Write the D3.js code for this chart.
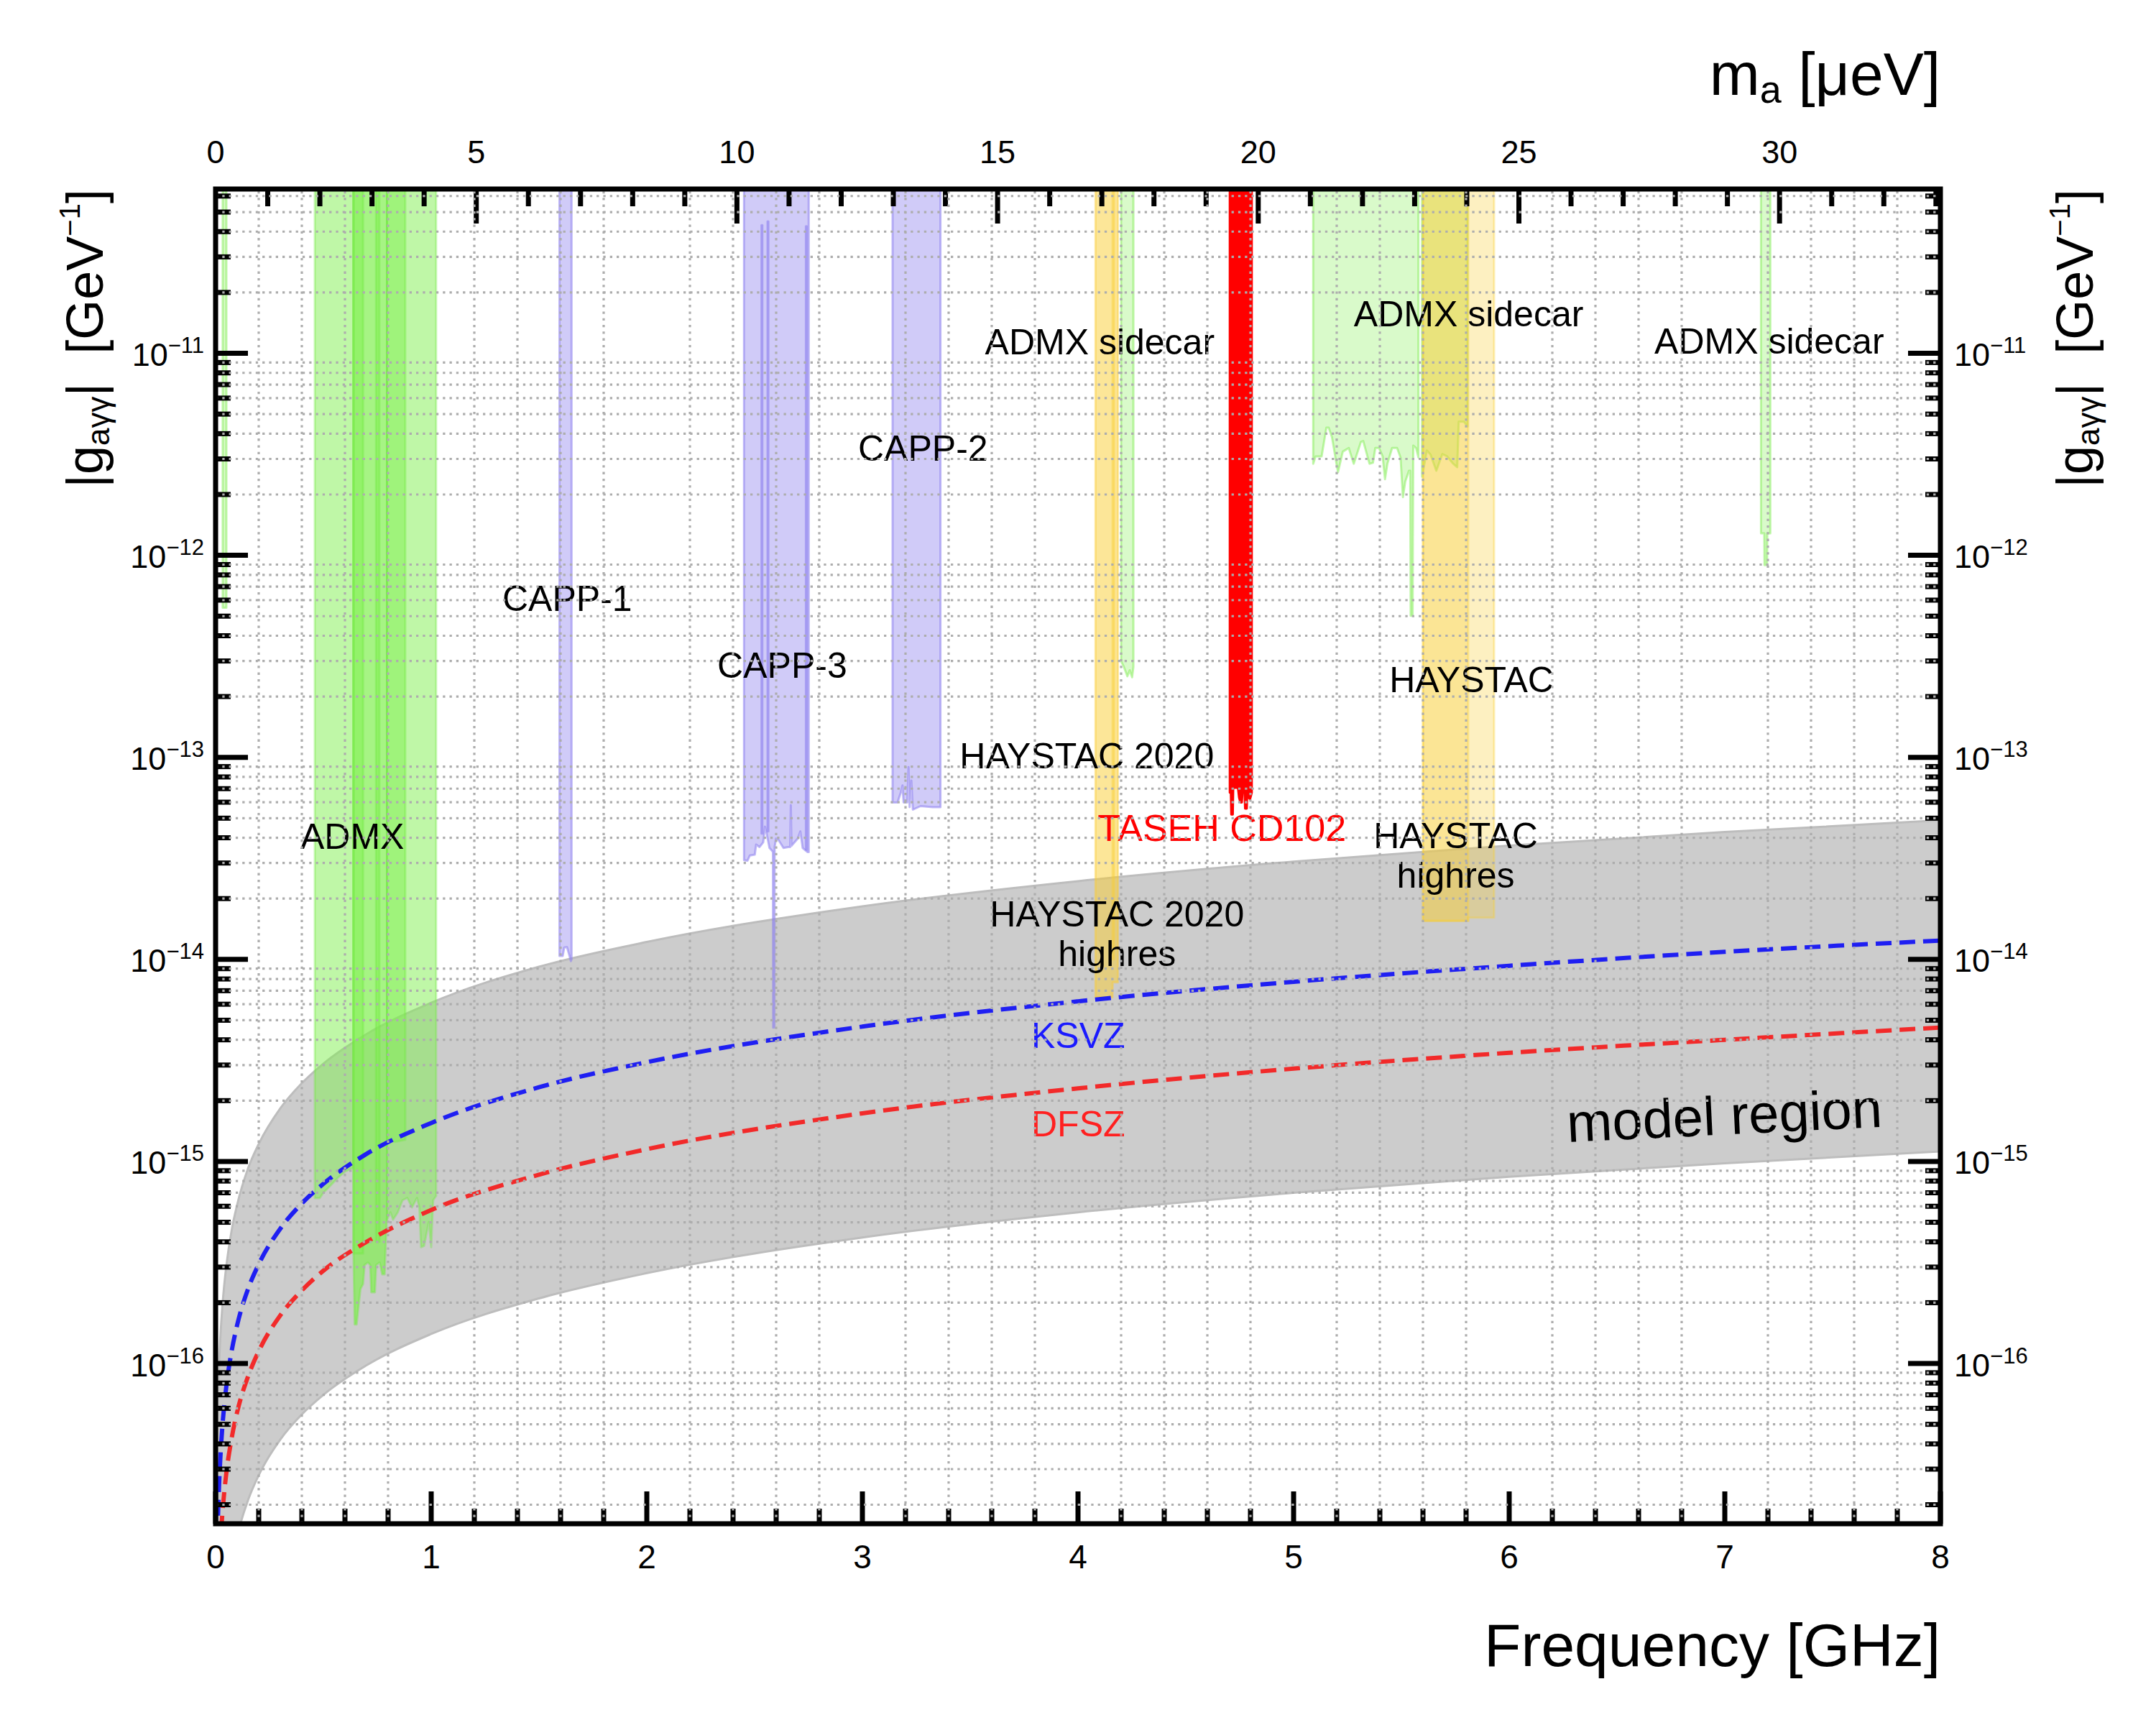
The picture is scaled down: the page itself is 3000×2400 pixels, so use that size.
<!DOCTYPE html>
<html><head><meta charset="utf-8">
<script src="https://cdn.jsdelivr.net/npm/d3@7/dist/d3.min.js"></script>
<style>
html,body{margin:0;padding:0;background:#fff;}
svg{display:block;}
text{font-family:"Liberation Sans",Arial,Helvetica,sans-serif;}
</style></head><body>
<svg id="chart" width="3000" height="2400"></svg>
<script>
// ---------------- DATA ----------------
const freqTicks = [0,1,2,3,4,5,6,7,8];
const massTicks = [0,5,10,15,20,25,30];
const gDecades  = [-16,-15,-14,-13,-12,-11];

// model band and benchmark lines (GHz, GeV^-1)
const modelFreq  = [0.001,0.003,0.01,0.015,0.02,0.03,0.04,0.05,0.075,0.1,0.15,0.2,0.3,0.4,0.5,0.7,1,1.5,2,3,4,5,6,7,8];
const modelUpper = [6.1e-18,1.83e-17,6.1e-17,9.2e-17,1.22e-16,1.83e-16,2.44e-16,3.05e-16,4.6e-16,6.1e-16,9.2e-16,1.22e-15,1.83e-15,2.44e-15,3.05e-15,4.27e-15,6.1e-15,9.2e-15,1.22e-14,1.83e-14,2.44e-14,3.05e-14,3.66e-14,4.27e-14,4.88e-14];
const modelLower = [1.4e-19,4.2e-19,1.4e-18,2.1e-18,2.8e-18,4.2e-18,5.6e-18,7e-18,1.05e-17,1.4e-17,2.1e-17,2.8e-17,4.2e-17,5.6e-17,7e-17,9.8e-17,1.4e-16,2.1e-16,2.8e-16,4.2e-16,5.6e-16,7e-16,8.4e-16,9.8e-16,1.12e-15];
const ksvzG      = [1.55e-18,4.65e-18,1.55e-17,2.33e-17,3.1e-17,4.65e-17,6.2e-17,7.75e-17,1.16e-16,1.55e-16,2.33e-16,3.1e-16,4.65e-16,6.2e-16,7.75e-16,1.09e-15,1.55e-15,2.33e-15,3.1e-15,4.65e-15,6.2e-15,7.75e-15,9.3e-15,1.09e-14,1.24e-14];
const dfszG      = [5.75e-19,1.73e-18,5.75e-18,8.6e-18,1.15e-17,1.73e-17,2.3e-17,2.88e-17,4.3e-17,5.75e-17,8.6e-17,1.15e-16,1.73e-16,2.3e-16,2.88e-16,4.0e-16,5.75e-16,8.6e-16,1.15e-15,1.73e-15,2.3e-15,2.88e-15,3.45e-15,4.0e-15,4.6e-15];

// exclusion limits: [frequency GHz, lower edge of excluded coupling]
const lowSliver   = [[0.033,5.5e-13],[0.05,5.5e-13]];
const admxLow     = [[0.46,6.58e-16],[0.483,6.58e-16],[0.5,7.0e-16],[0.533,7.6e-16],[0.567,8.3e-16],[0.6,8.9e-16],[0.639,9.3e-16]];
const admxDeep    = [[0.639,3.82e-16],[0.645,1.56e-16],[0.654,1.56e-16],[0.661,1.83e-16],[0.672,2.34e-16],[0.684,2.47e-16],[0.691,3.07e-16],[0.706,3.16e-16],[0.717,3.07e-16],[0.722,2.25e-16],[0.739,2.25e-16],[0.745,3.07e-16],[0.761,3.16e-16],[0.773,2.76e-16],[0.784,2.76e-16],[0.789,3.82e-16],[0.795,5.32e-16]];
const admxHigh    = [[0.795,5.15e-16],[0.811,5.6e-16],[0.823,5.15e-16],[0.845,5.6e-16],[0.867,6.42e-16],[0.889,6.6e-16],[0.911,5.92e-16],[0.934,6.6e-16],[0.945,5.92e-16],[0.953,3.76e-16],[0.967,3.82e-16],[0.978,4.38e-16],[0.989,5.02e-16],[1.0,3.76e-16],[1.009,6.42e-16],[1.023,6.76e-16]];
const admxOverlay = [[0.795,1.3e-15],[0.83,1.25e-15],[0.88,1.28e-15]];
const admxStripe1 = [[0.64,3.5e-16],[0.684,3.5e-16]];
const admxStripe2 = [[0.744,4.0e-16],[0.76,4.0e-16]];
const capp1       = [[1.595,1.04e-14],[1.61,1.04e-14],[1.617,1.145e-14],[1.63,1.15e-14],[1.635,1.1e-14],[1.643,1.026e-14],[1.648,9.8e-15],[1.651,1.0e-14]];
const capp3       = [[2.451,3.1e-14],[2.467,3.08e-14],[2.478,3.27e-14],[2.501,3.3e-14],[2.507,3.7e-14],[2.523,3.6e-14],[2.54,3.8e-14],[2.548,4.54e-14],[2.556,4.19e-14],[2.569,3.56e-14],[2.581,3.45e-14],[2.585,3.4e-14],[2.586,4.6e-15],[2.592,4.6e-15],[2.593,3.6e-14],[2.599,3.96e-14],[2.611,3.9e-14],[2.634,3.56e-14],[2.656,3.6e-14],[2.665,3.6e-14],[2.668,5.8e-14],[2.671,3.65e-14],[2.70,3.96e-14],[2.712,4.3e-14],[2.723,3.56e-14],[2.745,3.4e-14],[2.751,3.4e-14]];
const capp3Line1  = [[2.532,4.2e-14],[2.536,4.2e-14]];
const capp3Line2  = [[2.560,4.3e-14],[2.564,4.3e-14]];
const capp3Line3  = [[2.738,3.5e-14],[2.742,3.5e-14]];
const capp3LineTops = [4.31e-11,4.5e-11,4.25e-11];
const capp2       = [[3.14,5.98e-14],[3.163,5.98e-14],[3.178,6.69e-14],[3.186,7.26e-14],[3.191,5.98e-14],[3.208,5.98e-14],[3.214,8.95e-14],[3.219,5.67e-14],[3.227,7.68e-14],[3.234,5.51e-14],[3.27,5.74e-14],[3.326,5.67e-14],[3.362,5.67e-14]];
const haystac2020 = [[4.081,6.5e-15],[4.16,6.5e-15],[4.161,7.7e-15],[4.185,7.7e-15]];
const haystac2020b= [[4.16,1.0e-14],[4.168,1.0e-14]];
const sidecar42   = [[4.2,2.99e-13],[4.212,2.82e-13],[4.229,2.52e-13],[4.24,2.7e-13],[4.251,2.49e-13],[4.257,2.8e-13]];
const taseh       = [[4.704,6.69e-14],[4.709,6.69e-14],[4.711,5.21e-14],[4.718,5.21e-14],[4.72,7.07e-14],[4.742,7.07e-14],[4.747,6.33e-14],[4.753,5.98e-14],[4.76,5.98e-14],[4.765,7.16e-14],[4.772,7.16e-14],[4.775,5.58e-14],[4.783,5.58e-14],[4.785,6.69e-14],[4.792,6.33e-14],[4.798,6.2e-14],[4.806,6.69e-14]];
const sidecarA    = [[5.091,2.84e-12],[5.102,3.09e-12],[5.13,3.09e-12],[5.152,4.28e-12],[5.163,4.28e-12],[5.178,3.84e-12],[5.2,2.8e-12],[5.206,2.58e-12],[5.228,3.26e-12],[5.256,3.4e-12],[5.268,3.09e-12],[5.279,2.84e-12],[5.312,3.64e-12],[5.323,3.68e-12],[5.352,2.84e-12],[5.368,2.87e-12],[5.379,3.4e-12],[5.396,3.4e-12],[5.413,3.09e-12],[5.424,2.38e-12],[5.435,2.84e-12],[5.457,3.4e-12],[5.48,3.4e-12],[5.496,3.05e-12],[5.507,1.94e-12],[5.518,2.32e-12],[5.535,2.62e-12],[5.541,2.62e-12],[5.543,5.02e-13],[5.552,5.02e-13],[5.555,3.49e-12],[5.568,3.4e-12],[5.579,3.05e-12]];
const sidecarB    = [[5.596,2.45e-12],[5.618,3.3e-12],[5.635,3.15e-12],[5.662,2.62e-12],[5.69,3.17e-12],[5.712,3.09e-12],[5.74,2.84e-12],[5.759,2.73e-12],[5.766,4.58e-12],[5.79,4.58e-12],[5.807,4.34e-12]];
const haystacA    = [[5.6,1.55e-14],[5.81,1.55e-14],[5.811,1.61e-14],[5.93,1.61e-14]];
const haystacB    = [[5.6,1.55e-14],[5.81,1.55e-14]];
const sidecar72   = [[7.168,1.285e-12],[7.183,1.285e-12],[7.184,8.95e-13],[7.196,8.95e-13],[7.197,1.285e-12],[7.211,1.285e-12]];

// annotation texts anchored in data coordinates [GHz, GeV^-1]
const labels = [
  {t:["ADMX"], f:0.634, g:3.52e-14, c:"#000"},
  {t:["CAPP-1"], f:1.631, g:5.31e-13, c:"#000"},
  {t:["CAPP-3"], f:2.628, g:2.48e-13, c:"#000"},
  {t:["CAPP-2"], f:3.281, g:2.94e-12, c:"#000"},
  {t:["ADMX sidecar"], f:4.101, g:9.88e-12, c:"#000"},
  {t:["ADMX sidecar"], f:5.812, g:1.36e-11, c:"#000"},
  {t:["ADMX sidecar"], f:7.206, g:9.96e-12, c:"#000"},
  {t:["HAYSTAC 2020"], f:4.041, g:8.83e-14, c:"#000"},
  {t:["HAYSTAC"], f:5.825, g:2.1e-13, c:"#000"},
  {t:["HAYSTAC","highres"], f:5.752, g:3.56e-14, c:"#000"},
  {t:["HAYSTAC 2020","highres"], f:4.181, g:1.46e-14, c:"#000"},
  {t:["KSVZ"], f:4.001, g:3.65e-15, c:"#1a1aff"},
  {t:["DFSZ"], f:4.001, g:1.33e-15, c:"#ff2020"}
];

// ---------------- LAYOUT ----------------
const X0=300, X1=2700, Y0=263, Y1=2120;
const gMin=1.61e-17, gMax=6.5e-11;
const UEV_PER_GHZ = 4.13567;
const x  = d3.scaleLinear().domain([0,8]).range([X0,X1]);
const xm = d3.scaleLinear().domain([0,8*UEV_PER_GHZ]).range([X0,X1]);
const y  = d3.scaleLog().domain([gMin,gMax]).range([Y1,Y0]);

const svg = d3.select("#chart");
svg.append("rect").attr("width",3000).attr("height",2400).attr("fill","#fff");
svg.append("defs").append("clipPath").attr("id","pc")
  .append("rect").attr("x",X0).attr("y",Y0).attr("width",X1-X0).attr("height",Y1-Y0);
const plot = svg.append("g").attr("clip-path","url(#pc)");

// model region band
const band = d3.area().x(d=>x(d[0])).y0(d=>y(d[2])).y1(d=>y(d[1])).curve(d3.curveMonotoneX);
plot.append("path").datum(modelFreq.map((f,i)=>[f,modelUpper[i],modelLower[i]]))
  .attr("d",band).attr("fill","#cccccc").attr("stroke","#bdbdbd").attr("stroke-width",3);

// exclusion regions
const styles = {
  admx:   {fill:"rgba(128,240,80,0.5)",  stroke:"rgba(110,232,60,0.35)"},
  admx2:  {fill:"rgba(128,240,80,0.7)",  stroke:"rgba(110,232,60,0.4)"},
  side:   {fill:"rgba(128,240,80,0.3)",  stroke:"rgba(120,235,70,0.45)"},
  capp:   {fill:"rgba(150,140,240,0.45)",stroke:"rgba(140,128,238,0.55)"},
  hay2:   {fill:"rgba(250,205,50,0.5)",  stroke:"rgba(250,205,50,0.45)"},
  hay1:   {fill:"rgba(250,205,50,0.3)",  stroke:"rgba(250,205,50,0.35)"},
  taseh:  {fill:"#ff0000", stroke:"#ff0000"}
};
function region(pts, st, top){
  const tg = top===undefined ? gMax : top;
  const a = d3.area().x(d=>x(d[0])).y0(y(tg)).y1(d=>y(d[1])).curve(d3.curveLinear);
  plot.append("path").datum(pts).attr("d",a)
    .attr("fill",styles[st].fill).attr("stroke",styles[st].stroke)
    .attr("stroke-width",3).attr("stroke-linejoin","round");
}
region(lowSliver,"side");
region(admxLow,"admx");
region(admxDeep,"admx2");
region(admxHigh,"admx");
region(admxOverlay,"admx");
region(admxStripe1,"admx");
region(admxStripe2,"admx");
region(capp1,"capp");
region(capp3,"capp");
region(capp3Line1,"capp",capp3LineTops[0]);
region(capp3Line2,"capp",capp3LineTops[1]);
region(capp3Line3,"capp",capp3LineTops[2]);
region(capp2,"capp");
region(haystac2020,"hay2");
region(haystac2020b,"hay1");
region(sidecar42,"side");
region(taseh,"taseh");
region(sidecarA,"side");
region(sidecarB,"side");
region(haystacA,"hay1");
region(haystacB,"hay1");
region(sidecar72,"side");

// KSVZ / DFSZ lines
const line = d3.line().x(d=>x(d[0])).y(d=>y(d[1])).curve(d3.curveMonotoneX);
plot.append("path").datum(modelFreq.map((f,i)=>[f,dfszG[i]])).attr("d",line)
  .attr("fill","none").attr("stroke","#f22a2a").attr("stroke-width",6).attr("stroke-dasharray","22 11");
plot.append("path").datum(modelFreq.map((f,i)=>[f,ksvzG[i]])).attr("d",line)
  .attr("fill","none").attr("stroke","#1f1ff2").attr("stroke-width",6).attr("stroke-dasharray","22 11");

// annotations
const ann = svg.append("g").attr("font-size",50).attr("text-anchor","middle");
labels.forEach(L=>{
  L.t.forEach((s,i)=>{
    ann.append("text").attr("x",x(L.f)).attr("y",y(L.g)+i*55).attr("fill",L.c).text(s);
  });
});
ann.append("text").attr("x",x(4.091)).attr("y",y(3.85e-14)).attr("text-anchor","start")
  .attr("font-size",52).attr("fill","#ff0000").text("TASEH CD102");
ann.append("text").attr("transform",`translate(${x(7.002)},${y(1.36e-15)}) rotate(-2.8)`)
  .attr("font-size",76).attr("fill","#000").text("model region");

// ---------------- AXES ----------------
const axes = svg.append("g").attr("stroke","#000").attr("stroke-width",7).attr("stroke-linecap","butt");
const bottomMinor = d3.range(1,40).map(i=>i*0.2).filter(v=>Math.abs(v-Math.round(v))>1e-6);
freqTicks.forEach(f=>{ axes.append("line").attr("x1",x(f)).attr("x2",x(f)).attr("y1",Y1).attr("y2",Y1-45); });
bottomMinor.forEach(f=>{ axes.append("line").attr("x1",x(f)).attr("x2",x(f)).attr("y1",Y1).attr("y2",Y1-21); });
const mMax = 8*UEV_PER_GHZ;
d3.range(1,Math.floor(mMax)+1).forEach(m=>{
  const L = (m%5===0)?48:24;
  axes.append("line").attr("x1",xm(m)).attr("x2",xm(m)).attr("y1",Y0).attr("y2",Y0+L);
});
const logMinor = [];
for(let e=-17;e<=-11;e++) for(let k=2;k<=9;k++){ const v=k*Math.pow(10,e); if(v>gMin && v<gMax) logMinor.push(v); }
gDecades.forEach(e=>{
  const yy=y(Math.pow(10,e));
  axes.append("line").attr("x1",X0).attr("x2",X0+45).attr("y1",yy).attr("y2",yy);
  axes.append("line").attr("x1",X1).attr("x2",X1-45).attr("y1",yy).attr("y2",yy);
});
logMinor.forEach(v=>{
  const yy=y(v);
  axes.append("line").attr("x1",X0).attr("x2",X0+21).attr("y1",yy).attr("y2",yy);
  axes.append("line").attr("x1",X1).attr("x2",X1-21).attr("y1",yy).attr("y2",yy);
});

// grid (dotted, on minor ticks only)
const grid = svg.append("g").attr("clip-path","url(#pc)").attr("stroke","#adadad").attr("stroke-width",3.2).attr("stroke-dasharray","3.3 6");
bottomMinor.forEach(f=>{ grid.append("line").attr("x1",x(f)).attr("x2",x(f)).attr("y1",Y1).attr("y2",Y0); });
logMinor.forEach(v=>{ grid.append("line").attr("x1",X0).attr("x2",X1).attr("y1",y(v)).attr("y2",y(v)); });

// frame
svg.append("rect").attr("x",X0).attr("y",Y0).attr("width",X1-X0).attr("height",Y1-Y0)
  .attr("fill","none").attr("stroke","#000").attr("stroke-width",7);

// tick labels
const tl = svg.append("g").attr("fill","#000");
freqTicks.forEach(f=>{ tl.append("text").attr("x",x(f)).attr("y",2182).attr("text-anchor","middle").attr("font-size",46).text(f); });
massTicks.forEach(m=>{ tl.append("text").attr("x",xm(m)).attr("y",227).attr("text-anchor","middle").attr("font-size",45).text(m); });
gDecades.forEach(e=>{
  const yy=y(Math.pow(10,e));
  [[284,"end"],[2719,"start"]].forEach(([xx,anc])=>{
    const t=tl.append("text").attr("x",xx).attr("y",yy+17.5).attr("text-anchor",anc).attr("font-size",45);
    t.append("tspan").text("10");
    t.append("tspan").attr("font-size",31).attr("dy",-18).text("\u2212"+Math.abs(e));
  });
});

// axis titles
svg.append("text").attr("x",X1).attr("y",2318).attr("text-anchor","end").attr("font-size",84).text("Frequency [GHz]");
const tt = svg.append("text").attr("x",X1).attr("y",132).attr("text-anchor","end").attr("font-size",84);
tt.append("tspan").text("m");
tt.append("tspan").attr("font-size",54).attr("dy",11).text("a");
tt.append("tspan").attr("dy",-11).text("\u00a0[\u03bceV]");
function yTitle(tx){
  const t = svg.append("text").attr("transform",`translate(${tx},${Y0}) rotate(-90)`).attr("text-anchor","end").attr("font-size",72);
  t.append("tspan").text("|g");
  t.append("tspan").attr("font-size",44).attr("dy",9).text("a\u03b3\u03b3");
  t.append("tspan").attr("dy",-9).text("|\u00a0\u00a0[GeV");
  t.append("tspan").attr("font-size",40).attr("dy",-32).text("\u22121");
  t.append("tspan").attr("dy",32).text("]");
}
yTitle(143);
yTitle(2912);
</script>
</body></html>
